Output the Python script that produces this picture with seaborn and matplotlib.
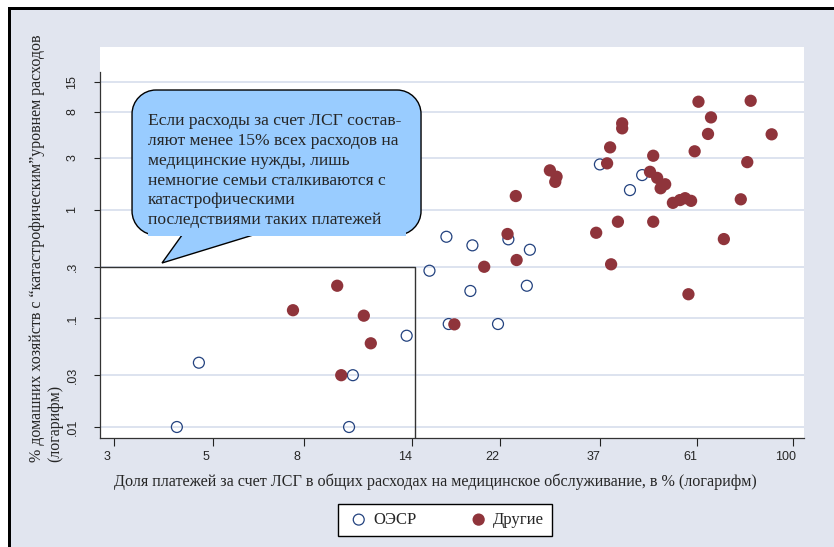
import numpy as np
import pandas as pd
import matplotlib
matplotlib.use("Agg")
import matplotlib.pyplot as plt
import matplotlib.transforms as mtransforms
from matplotlib.path import Path
from matplotlib.patches import PathPatch, Rectangle
import seaborn as sns

# данные
oecd_x = [36.9, 45.9, 43.1, 16.7, 19.1, 23.0, 25.7, 15.3, 18.9, 25.3, 16.9, 21.8, 13.6, 4.65, 10.3, 4.15, 10.1]
oecd_y = [2.62, 2.09, 1.52, 0.565, 0.471, 0.535, 0.429, 0.275, 0.179, 0.200, 0.0888, 0.0888, 0.0693, 0.0391, 0.030, 0.010, 0.010]

other_x = [61.4, 80.4, 65.5, 64.5, 89.6, 41.4, 41.4, 38.9, 48.6, 60.2,
           79.0, 38.3, 28.5, 29.5, 29.3, 47.8, 49.6, 51.7, 50.5, 23.9,
           53.8, 57.3, 59.1, 55.8, 76.4, 40.5, 48.6, 36.2, 70.0, 22.9,
           20.3, 24.0, 39.1, 58.3, 17.4, 9.5, 7.56, 10.9, 11.3, 9.7]
other_y = [9.9, 10.1, 7.1, 5.0, 4.96, 6.26, 5.63, 3.76, 3.15, 3.46,
           2.75, 2.68, 2.31, 2.02, 1.81, 2.24, 1.97, 1.72, 1.58, 1.34,
           1.16, 1.28, 1.21, 1.23, 1.25, 0.777, 0.777, 0.615, 0.538, 0.599,
           0.299, 0.345, 0.315, 0.167, 0.0882, 0.200, 0.119, 0.106, 0.059, 0.030]

x_ticks = [3, 5, 8, 14, 22, 37, 61, 100]
x_ticklabels = ["3", "5", "8", "14", "22", "37", "61", "100"]
y_ticks = [0.01, 0.03, 0.1, 0.3, 1, 3, 8, 15]
y_ticklabels = [".01", ".03", ".1", ".3", "1", "3", "8", "15"]

# порог: 15% расходов и 0.3% домохозяйств
thr_x = 14.2
thr_y = 0.3

label_oecd = "ОЭСР"
label_other = "Другие"
xlabel = "Доля платежей за счет ЛСГ в общих расходах на медицинское обслуживание, в % (логарифм)"
ylabel = "% домашних хозяйств с “катастрофическим”уровнем расходов\n(логарифм)"
callout = ("Если расходы за счет ЛСГ состав-\n"
           "ляют менее 15% всех расходов на\n"
           "медицинские нужды, лишь\n"
           "немногие семьи сталкиваются с\n"
           "катастрофическими\n"
           "последствиями таких платежей")

df_oecd = pd.DataFrame({"x": oecd_x, "y": oecd_y})
df_other = pd.DataFrame({"x": other_x, "y": other_y})

sns.set_style("white")
plt.rcParams['font.family'] = ['Liberation Sans', 'DejaVu Sans']

bg = "#E1E5EF"
navy = "#23427F"
maroon = "#8F343B"
serif = ['Liberation Serif', 'DejaVu Serif']

fig = plt.figure(figsize=(8.34, 5.47), dpi=100, facecolor=bg)
ax = fig.add_axes([100/834, 109/547, 704/834, 391/547])
ax.set_facecolor("white")

sns.scatterplot(data=df_oecd, x="x", y="y", ax=ax, s=62, facecolors="none",
                edgecolor=navy, linewidth=0.9, label=label_oecd, zorder=3)
sns.scatterplot(data=df_other, x="x", y="y", ax=ax, s=78, color=maroon,
                edgecolor="none", linewidth=0, label=label_other, zorder=3)

ax.set_xscale("log")
ax.set_yscale("log")
ax.set_xlim(2.79, 105.9)
ax.set_ylim(0.00792, 31.6)
ax.set_xticks(x_ticks)
ax.set_xticklabels(x_ticklabels)
ax.set_yticks(y_ticks)
ax.set_yticklabels(y_ticklabels, rotation=90, va="center")
ax.minorticks_off()
ax.tick_params(axis="x", length=6, width=0.8, color="#222222", pad=3.5, labelsize=9)
ax.tick_params(axis="y", length=4.5, width=0.8, color="#222222", pad=11, labelsize=9)
ax.tick_params(left=True, bottom=True)

offset = mtransforms.ScaledTranslation(-0.07, 0, fig.dpi_scale_trans)
for lab in ax.get_xticklabels():
    lab.set_transform(lab.get_transform() + offset)

ax.yaxis.grid(True, color="#DAE1EE", linewidth=1.3, zorder=0)
ax.xaxis.grid(False)
ax.set_axisbelow(True)
for side in ["top", "right"]:
    ax.spines[side].set_visible(False)
ax.spines["left"].set_color("#333333")
ax.spines["bottom"].set_color("#333333")
ax.spines["left"].set_linewidth(0.9)
ax.spines["bottom"].set_linewidth(0.9)
ax.spines["left"].set_bounds(0.00792, 18.6)
ax.set_xlabel("")
ax.set_ylabel("")
ax.get_legend().remove()

# рамка порога
ax.plot([2.79, thr_x, thr_x], [thr_y, thr_y, 0.00792], color="#333333", lw=1.0, zorder=2)

# выноска
x0, x1, y0, y1 = 0.0455, 0.456, 0.519, 0.890
rx, ry = 24/704, 24/391
k = 0.5523
bx1, bx2 = 0.1165, 0.2173
tip = (0.0881, 0.4476)
verts = [(x0 + rx, y1), (x1 - rx, y1),
         (x1 - rx + k*rx, y1), (x1, y1 - ry + k*ry), (x1, y1 - ry),
         (x1, y0 + ry),
         (x1, y0 + ry - k*ry), (x1 - rx + k*rx, y0), (x1 - rx, y0),
         (bx2, y0), tip, (bx1, y0), (x0 + rx, y0),
         (x0 + rx - k*rx, y0), (x0, y0 + ry - k*ry), (x0, y0 + ry),
         (x0, y1 - ry),
         (x0, y1 - ry + k*ry), (x0 + rx - k*rx, y1), (x0 + rx, y1),
         (x0 + rx, y1)]
codes = [Path.MOVETO, Path.LINETO,
         Path.CURVE4, Path.CURVE4, Path.CURVE4,
         Path.LINETO,
         Path.CURVE4, Path.CURVE4, Path.CURVE4,
         Path.LINETO, Path.LINETO, Path.LINETO, Path.LINETO,
         Path.CURVE4, Path.CURVE4, Path.CURVE4,
         Path.LINETO,
         Path.CURVE4, Path.CURVE4, Path.CURVE4,
         Path.CLOSEPOLY]
ax.add_patch(PathPatch(Path(verts, codes), facecolor="#99CCFF", edgecolor="black",
                       lw=1.0, transform=ax.transAxes, zorder=4))
ax.add_patch(Rectangle((0.068, 0.5166), 0.3667, 0.040, facecolor="#99CCFF",
                       edgecolor="none", transform=ax.transAxes, zorder=5))
ax.text(0.068, 0.684, callout, transform=ax.transAxes, ha="left", va="center",
        fontsize=12.6, family=serif, linespacing=1.33, zorder=6)

# подписи осей
fig.text(0.522, 0.1188, xlabel, ha="center", va="center", fontsize=11.6, family=serif)
fig.text(0.0552, 0.1554, ylabel, ha="center", va="bottom", rotation=90,
         multialignment="left", fontsize=11.5, family=serif, linespacing=1.2)

# легенда
handles, labels = ax.get_legend_handles_labels()
leg = fig.legend(handles, labels, loc="center", bbox_to_anchor=(0.5336, 0.0494),
                 ncol=2, frameon=True, fancybox=False, edgecolor="black",
                 facecolor="white", framealpha=1, handlelength=1.5,
                 handletextpad=0.1, columnspacing=3.0, borderpad=0.5,
                 prop={"family": serif, "size": 12})
leg.get_frame().set_linewidth(1.0)

# края скриншота
fig.patches.append(Rectangle((0, 540/547), 1, 7/547, facecolor="white", edgecolor="none",
                             transform=fig.transFigure, figure=fig))
fig.patches.append(Rectangle((0, 0), 8/834, 1, facecolor="white", edgecolor="none",
                             transform=fig.transFigure, figure=fig))
fig.patches.append(Rectangle((8/834, 537/547), 1, 3/547, facecolor="black", edgecolor="none",
                             transform=fig.transFigure, figure=fig))
fig.patches.append(Rectangle((8/834, 0), 3/834, 540/547, facecolor="black", edgecolor="none",
                             transform=fig.transFigure, figure=fig))

fig.savefig("out.png", dpi=100, facecolor=bg)
